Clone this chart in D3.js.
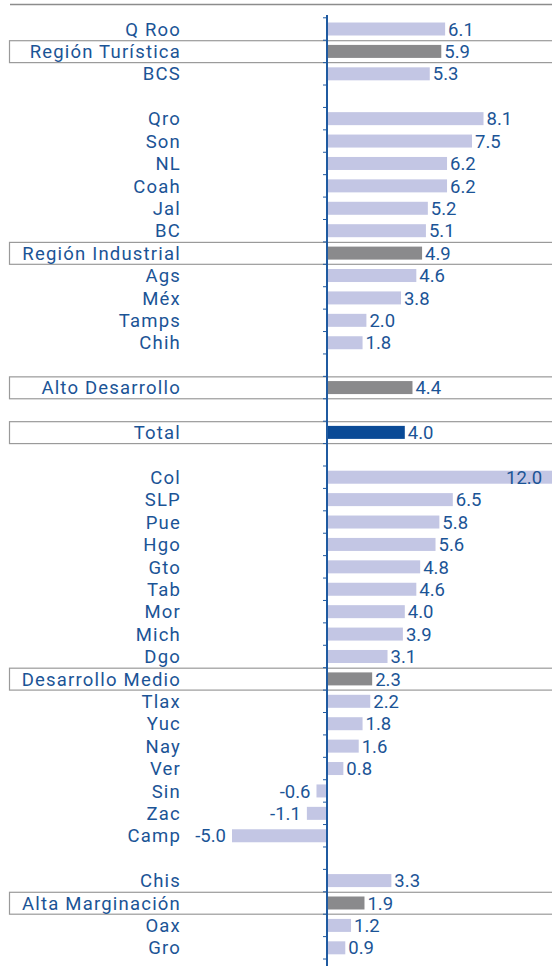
<!DOCTYPE html>
<html>
<head>
<meta charset="utf-8">
<script src="https://cdn.jsdelivr.net/npm/d3@7"></script>
<style>
  body { margin: 0; background: #fff; }
  text { font-family: Roboto, sans-serif; fill: #1b5496; }
</style>
</head>
<body>
<script>
// "" marks an empty spacer row
var labels = ["Q Roo", "Región Turística", "BCS", "",
  "Qro", "Son", "NL", "Coah", "Jal", "BC", "Región Industrial", "Ags", "Méx", "Tamps", "Chih", "",
  "Alto Desarrollo", "", "Total", "",
  "Col", "SLP", "Pue", "Hgo", "Gto", "Tab", "Mor", "Mich", "Dgo", "Desarrollo Medio",
  "Tlax", "Yuc", "Nay", "Ver", "Sin", "Zac", "Camp", "",
  "Chis", "Alta Marginación", "Oax", "Gro"];

var values = [6.1, 5.9, 5.3, null,
  8.1, 7.5, 6.2, 6.2, 5.2, 5.1, 4.9, 4.6, 3.8, 2.0, 1.8, null,
  4.4, null, 4.0, null,
  12.0, 6.5, 5.8, 5.6, 4.8, 4.6, 4.0, 3.9, 3.1, 2.3,
  2.2, 1.8, 1.6, 0.8, -0.6, -1.1, -5.0, null,
  3.3, 1.9, 1.2, 0.9];

var regions = ["Región Turística", "Región Industrial", "Alto Desarrollo", "Desarrollo Medio", "Alta Marginación"];
var totals = ["Total"];

var width = 552, height = 969;

var svg = d3.select("body").append("svg")
    .attr("width", width)
    .attr("height", height);

var rows = labels.map(function(d, i) { return { label: d, value: values[i], i: i }; });

var x = d3.scaleLinear().domain([-5, 12]).range([231, 557.4]);
var y = d3.scaleBand().domain(d3.range(rows.length)).range([17.8, 17.8 + 22.41 * rows.length]);

function kind(d) {
  if (totals.indexOf(d.label) >= 0) return "total";
  if (regions.indexOf(d.label) >= 0) return "region";
  return "state";
}
var fill = { state: "#c3c6e4", region: "#8a8a8c", total: "#0a4a96" };

// top rule
svg.append("line")
    .attr("x1", 10).attr("x2", width)
    .attr("y1", 4.5).attr("y2", 4.5)
    .attr("stroke", "#8c8c8c").attr("stroke-width", 1.5);

// boxes round the region and total rows
svg.selectAll("rect.box")
    .data(rows.filter(function(d) { return kind(d) !== "state"; }))
  .enter().append("rect")
    .attr("class", "box")
    .attr("x", 9.5)
    .attr("y", function(d) { return y(d.i) + 0.5; })
    .attr("width", width)
    .attr("height", y.bandwidth() - 0.5)
    .attr("fill", "none")
    .attr("stroke", "#9a9a9a")
    .attr("stroke-width", 1.2);

var data = rows.filter(function(d) { return d.value !== null; });

svg.selectAll("rect.bar")
    .data(data)
  .enter().append("rect")
    .attr("class", "bar")
    .attr("x", function(d) { return Math.min(x(0), x(d.value)) + 1; })
    .attr("y", function(d) { return y(d.i) + y.bandwidth() / 2 - 6.5; })
    .attr("width", function(d) { return Math.abs(x(d.value) - x(0)); })
    .attr("height", 13)
    .attr("fill", function(d) { return fill[kind(d)]; });

// category labels
svg.selectAll("text.cat")
    .data(data)
  .enter().append("text")
    .attr("class", "cat")
    .attr("x", 181)
    .attr("y", function(d) { return y(d.i) + y.bandwidth() / 2; })
    .attr("dy", "0.36em")
    .attr("text-anchor", "end")
    .style("font-size", "18.5px")
    .style("letter-spacing", "1.2px")
    .text(function(d) { return d.label; });

// value labels
svg.selectAll("text.val")
    .data(data)
  .enter().append("text")
    .attr("class", "val")
    .attr("x", function(d) {
      if (d.value < 0) return x(d.value) - 5;
      return Math.min(x(d.value) + 4, 506);
    })
    .attr("y", function(d) { return y(d.i) + y.bandwidth() / 2; })
    .attr("dy", "0.36em")
    .attr("text-anchor", function(d) { return d.value < 0 ? "end" : "start"; })
    .style("font-size", "18.5px")
    .text(function(d) { return d3.format(".1f")(d.value).replace("−", "-"); });

// zero axis with ticks at row boundaries
var gAxis = svg.append("g")
    .attr("transform", "translate(" + x(0) + ",0)");
gAxis.append("line")
    .attr("y1", 15).attr("y2", 966)
    .attr("stroke", "#1f5aa0").attr("stroke-width", 2);
gAxis.selectAll("line.tick")
    .data(d3.range(rows.length + 1))
  .enter().append("line")
    .attr("class", "tick")
    .attr("x1", -4).attr("x2", 0)
    .attr("y1", function(i) { return 17.8 + 22.41 * i; })
    .attr("y2", function(i) { return 17.8 + 22.41 * i; })
    .attr("stroke", "#1f5aa0").attr("stroke-width", 1);
</script>
</body>
</html>
